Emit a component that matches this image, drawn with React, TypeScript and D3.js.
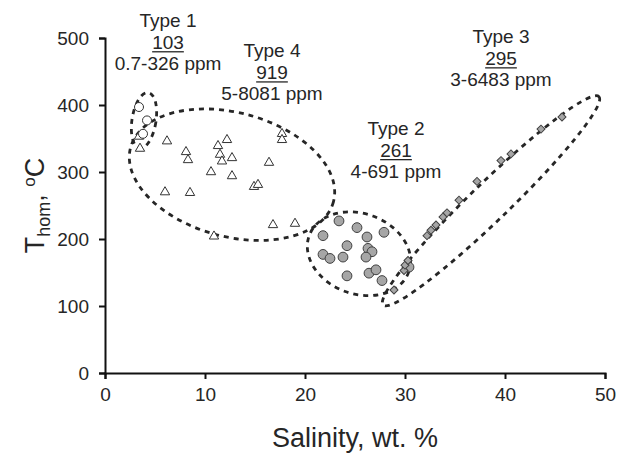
import React, { useEffect, useRef } from "react";
import * as d3 from "d3";

// inclusion types: salinity (wt. %) vs homogenization temperature (°C)
const type1Salinity = [3.4, 4.2, 3.8];
const type1Temp = [397, 377, 357];

const type4Salinity = [3.4, 3.5, 6.2, 8.1, 8.3, 6.0, 8.5, 11.3, 12.2, 11.5, 11.7, 12.7, 10.6, 12.7, 16.4, 17.7, 17.7, 14.9, 15.3, 16.8, 19.0, 10.9];
const type4Temp = [353, 335, 346, 330, 318, 270, 269, 339, 348, 326, 316, 321, 300, 294, 314, 357, 348, 278, 281, 221, 223, 204];

const type2Salinity = [23.4, 25.2, 21.8, 26.2, 27.9, 24.2, 26.3, 26.7, 21.8, 22.5, 23.8, 26.1, 24.2, 26.4, 27.1, 27.7, 30.4];
const type2Temp = [227, 217, 205, 203, 210, 190, 186, 181, 177, 171, 173, 173, 145, 149, 154, 138, 158];

const type3Salinity = [28.9, 29.9, 30.0, 30.3, 32.2, 32.6, 33.1, 33.8, 34.2, 35.4, 37.2, 39.6, 40.6, 43.6, 45.7];
const type3Temp = [124, 153, 161, 168, 205, 213, 221, 233, 239, 258, 286, 317, 327, 364, 382];

// labels over each group
const groupNames = ["Type 1", "Type 4", "Type 2", "Type 3"];
const groupCounts = ["103", "919", "261", "295"];
const groupRanges = ["0.7-326 ppm", "5-8081 ppm", "4-691 ppm", "3-6483 ppm"];
const labelSalinity = [6.3, 16.7, 29.1, 39.6];
const labelTemp = [516, 471, 355, 492];

// dashed outlines (centre, radii in axis units, tilt in degrees)
const outlineCx = [3.9, 12.7, 25.4, 38.6];
const outlineCy = [377, 296, 178, 257];
const outlineRx = [1.2, 10.5, 5.3, 15];
const outlineRy = [42, 92.5, 60, 28.4];
const outlineRot = [9, 15, 20, -44];

const xTicks = [0, 10, 20, 30, 40, 50];
const yTicks = [0, 100, 200, 300, 400, 500];

const FONT = "'Liberation Sans', Arial, sans-serif";

export default function App() {
  const ref = useRef<SVGSVGElement>(null);

  useEffect(() => {
    const W = 621, H = 454;
    const margin = { top: 38, right: 16, bottom: 81, left: 105 };
    const width = W - margin.left - margin.right;
    const height = H - margin.top - margin.bottom;

    const svg = d3.select(ref.current);
    svg.selectAll("*").remove();

    const x = d3.scaleLinear().domain([0, 50]).range([margin.left, margin.left + width]);
    const y = d3.scaleLinear().domain([0, 500]).range([margin.top + height, margin.top]);

    // outlines
    outlineCx.forEach((cx, i) => {
      svg
        .append("ellipse")
        .attr("cx", 0)
        .attr("cy", 0)
        .attr("rx", x(outlineRx[i]) - x(0))
        .attr("ry", y(0) - y(outlineRy[i]))
        .attr("transform", `translate(${x(cx)},${y(outlineCy[i])}) rotate(${outlineRot[i]})`)
        .attr("fill", "none")
        .attr("stroke", "#262626")
        .attr("stroke-width", 2.8)
        .attr("stroke-dasharray", "5,5");
    });

    // axes
    const xAxis = svg
      .append("g")
      .attr("transform", `translate(0,${y(0)})`)
      .call(d3.axisBottom(x).tickValues(xTicks).tickSize(6).tickPadding(9));
    const yAxis = svg
      .append("g")
      .attr("transform", `translate(${x(0)},0)`)
      .call(d3.axisLeft(y).tickValues(yTicks).tickSize(6).tickPadding(10));
    [xAxis, yAxis].forEach(a => {
      a.select(".domain").attr("stroke", "#111").attr("stroke-width", 2);
      a.selectAll(".tick line").attr("stroke", "#111").attr("stroke-width", 2);
      a.selectAll(".tick text")
        .attr("fill", "#262626")
        .style("font-family", FONT)
        .style("font-size", "19px");
    });

    // points
    const pts = svg.append("g");
    const tri = d3.symbol().type(d3.symbolTriangle).size(38);
    type4Salinity.forEach((s, i) => {
      pts
        .append("path")
        .attr("d", tri() as string)
        .attr("transform", `translate(${x(s)},${y(type4Temp[i])})`)
        .attr("fill", "white")
        .attr("stroke", "#333")
        .attr("stroke-width", 1);
    });
    type1Salinity.forEach((s, i) => {
      pts
        .append("circle")
        .attr("cx", x(s))
        .attr("cy", y(type1Temp[i]))
        .attr("r", 4.5)
        .attr("fill", "white")
        .attr("stroke", "#333")
        .attr("stroke-width", 1);
    });
    type2Salinity.forEach((s, i) => {
      pts
        .append("circle")
        .attr("cx", x(s))
        .attr("cy", y(type2Temp[i]))
        .attr("r", 4.9)
        .attr("fill", "#a6a6a6")
        .attr("stroke", "#404040")
        .attr("stroke-width", 1);
    });
    const sq = d3.symbol().type(d3.symbolSquare).size(32);
    type3Salinity.forEach((s, i) => {
      pts
        .append("path")
        .attr("d", sq() as string)
        .attr("transform", `translate(${x(s)},${y(type3Temp[i])}) rotate(45)`)
        .attr("fill", "#a6a6a6")
        .attr("stroke", "#404040")
        .attr("stroke-width", 1);
    });

    // group labels
    groupNames.forEach((name, i) => {
      const cx = x(labelSalinity[i]);
      const top = y(labelTemp[i]);
      const g = svg
        .append("g")
        .style("font-family", FONT)
        .style("font-size", "19px")
        .attr("fill", "#262626")
        .attr("text-anchor", "middle");
      g.append("text").attr("x", cx).attr("y", top).text(name);
      const num = g.append("text").attr("x", cx).attr("y", top + 21.5).text(groupCounts[i]);
      const w = (num.node() as SVGTextElement).getComputedTextLength();
      g.append("line")
        .attr("x1", cx - w / 2)
        .attr("x2", cx + w / 2)
        .attr("y1", top + 24.5)
        .attr("y2", top + 24.5)
        .attr("stroke", "#262626")
        .attr("stroke-width", 1.3);
      g.append("text").attr("x", cx).attr("y", top + 43).text(groupRanges[i]);
    });

    // axis titles
    svg
      .append("text")
      .attr("x", x(25))
      .attr("y", 447)
      .attr("text-anchor", "middle")
      .attr("fill", "#262626")
      .style("font-family", FONT)
      .style("font-size", "27px")
      .text("Salinity, wt. %");

    const yt = svg
      .append("text")
      .attr("transform", `translate(44,${y(250)}) rotate(-90)`)
      .attr("text-anchor", "middle")
      .attr("fill", "#262626")
      .style("font-family", FONT)
      .style("font-size", "27px");
    yt.append("tspan").text("T");
    yt.append("tspan").attr("dy", 6).style("font-size", "18px").text("hom");
    yt.append("tspan").attr("dy", -6).text(", ");
    yt.append("tspan").attr("dy", -9).style("font-size", "17px").text("o");
    yt.append("tspan").attr("dy", 9).text("C");
  }, []);

  return (
    <svg
      ref={ref}
      width={621}
      height={454}
      style={{ position: "absolute", left: 0, top: 0, background: "white" }}
    />
  );
}
